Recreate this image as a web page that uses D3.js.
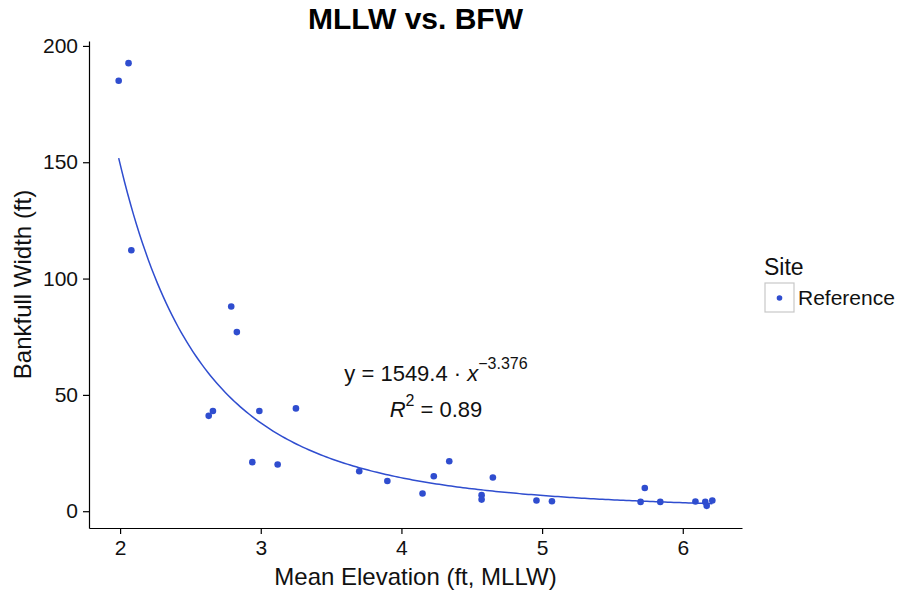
<!DOCTYPE html>
<html>
<head>
<meta charset="utf-8">
<script src="https://cdn.jsdelivr.net/npm/d3@7"></script>
<style>
  html, body { margin: 0; padding: 0; background: #fff; }
  svg { display: block; font-family: "Liberation Sans", Arial, Helvetica, sans-serif; }
</style>
</head>
<body>
<svg id="chart" width="898" height="592"></svg>
<script>
// Mean elevation (ft, MLLW) and bankfull width (ft) for the reference sites
const elevation = [1.99, 2.06, 2.08, 2.63, 2.66, 2.79, 2.83, 2.94, 2.99, 3.12, 3.25,
                   3.70, 3.90, 4.15, 4.23, 4.34, 4.57, 4.57, 4.65, 4.96, 5.07,
                   5.70, 5.73, 5.84, 6.09, 6.16, 6.17, 6.21];
const bankfullWidth = [185, 192.6, 112.2, 41.0, 43.1, 88.0, 77.0, 21.1, 43.1, 20.1, 44.2,
                       17.2, 13.0, 7.6, 15.0, 21.5, 6.9, 5.0, 14.5, 4.6, 4.3,
                       4.0, 10.0, 4.0, 4.2, 4.0, 2.3, 4.6];
const siteGroups = ["Reference"];
const xTicks = [2, 3, 4, 5, 6];
const yTicks = [0, 50, 100, 150, 200];

// Power-law fit y = a * x^b
const fitA = 1549.4, fitB = -3.376, fitR2 = 0.89;

const blue = "#2f4dcf";
const svg = d3.select("#chart");
const panel = { left: 89, right: 742, top: 41, bottom: 528 };

// ggplot-style 5% expansion of the data range
function expanded(vals) {
  const [lo, hi] = d3.extent(vals);
  const pad = (hi - lo) * 0.05;
  return [lo - pad, hi + pad];
}

const x = d3.scaleLinear().domain(expanded(elevation)).range([panel.left, panel.right]);
const y = d3.scaleLinear().domain(expanded(bankfullWidth)).range([panel.bottom, panel.top]);

// Axes
const xAxis = svg.append("g")
  .attr("transform", `translate(0,${panel.bottom})`)
  .call(d3.axisBottom(x).tickValues(xTicks).tickFormat(d3.format("d")).tickSize(6).tickPadding(6).tickSizeOuter(0));
const yAxis = svg.append("g")
  .attr("transform", `translate(${panel.left},0)`)
  .call(d3.axisLeft(y).tickValues(yTicks).tickFormat(d3.format("d")).tickSize(6).tickPadding(5).tickSizeOuter(0));

[xAxis, yAxis].forEach(g => {
  g.select(".domain").attr("stroke", "#000").attr("stroke-width", 1.2);
  g.selectAll(".tick line").attr("stroke", "#000").attr("stroke-width", 1.2);
  g.selectAll(".tick text").attr("fill", "#111").style("font-size", "21px")
    .style("font-family", "'Liberation Sans', Arial, sans-serif");
});

// Fitted power curve over the observed elevation range
const [xMin, xMax] = d3.extent(elevation);
const curveX = d3.range(0, 201).map(i => xMin + (xMax - xMin) * i / 200);
svg.append("path")
  .datum(curveX)
  .attr("fill", "none")
  .attr("stroke", blue)
  .attr("stroke-width", 1.5)
  .attr("d", d3.line().x(d => x(d)).y(d => y(fitA * Math.pow(d, fitB))));

// Observations
svg.append("g").selectAll("circle")
  .data(elevation.map((e, i) => ({ e, w: bankfullWidth[i] })))
  .join("circle")
  .attr("cx", d => x(d.e))
  .attr("cy", d => y(d.w))
  .attr("r", 3.3)
  .attr("fill", blue);

// Fit equation annotation
const eq = svg.append("text")
  .attr("x", 436).attr("y", 381)
  .attr("text-anchor", "middle")
  .style("font-size", "22px").attr("fill", "#111");
eq.append("tspan").text(`y = ${fitA} \u00B7 `);
eq.append("tspan").style("font-style", "italic").text("x");
eq.append("tspan").attr("dy", -12).style("font-size", "16px").text(`\u2212${Math.abs(fitB)}`);

const r2 = svg.append("text")
  .attr("x", 436).attr("y", 417)
  .attr("text-anchor", "middle")
  .style("font-size", "22px").attr("fill", "#111");
r2.append("tspan").style("font-style", "italic").text("R");
r2.append("tspan").attr("dy", -11).style("font-size", "16px").text("2");
r2.append("tspan").attr("dy", 11).text(` = ${fitR2}`);

// Titles
svg.append("text")
  .attr("x", (panel.left + panel.right) / 2).attr("y", 29)
  .attr("text-anchor", "middle")
  .style("font-size", "30px").style("font-weight", "bold")
  .text("MLLW vs. BFW");

svg.append("text")
  .attr("x", (panel.left + panel.right) / 2).attr("y", 585)
  .attr("text-anchor", "middle")
  .style("font-size", "24px").attr("fill", "#111")
  .text("Mean Elevation (ft, MLLW)");

svg.append("text")
  .attr("transform", `translate(31,${(panel.top + panel.bottom) / 2}) rotate(-90)`)
  .attr("text-anchor", "middle")
  .style("font-size", "24px").attr("fill", "#111")
  .text("Bankfull Width (ft)");

// Legend
const legend = svg.append("g").attr("transform", "translate(765,0)");
legend.append("text")
  .attr("x", -1).attr("y", 275)
  .style("font-size", "23px").attr("fill", "#111")
  .text("Site");
const keys = legend.selectAll("g.key").data(siteGroups).join("g").attr("class", "key")
  .attr("transform", (d, i) => `translate(0,${283 + i * 30})`);
keys.append("rect")
  .attr("width", 29).attr("height", 29)
  .attr("fill", "#fff").attr("stroke", "#c8c8c8").attr("stroke-width", 1.2);
keys.append("circle")
  .attr("cx", 14.5).attr("cy", 15).attr("r", 2.8).attr("fill", blue);
keys.append("text")
  .attr("x", 33).attr("y", 22)
  .style("font-size", "21px").attr("fill", "#111")
  .text(d => d);
</script>
</body>
</html>
